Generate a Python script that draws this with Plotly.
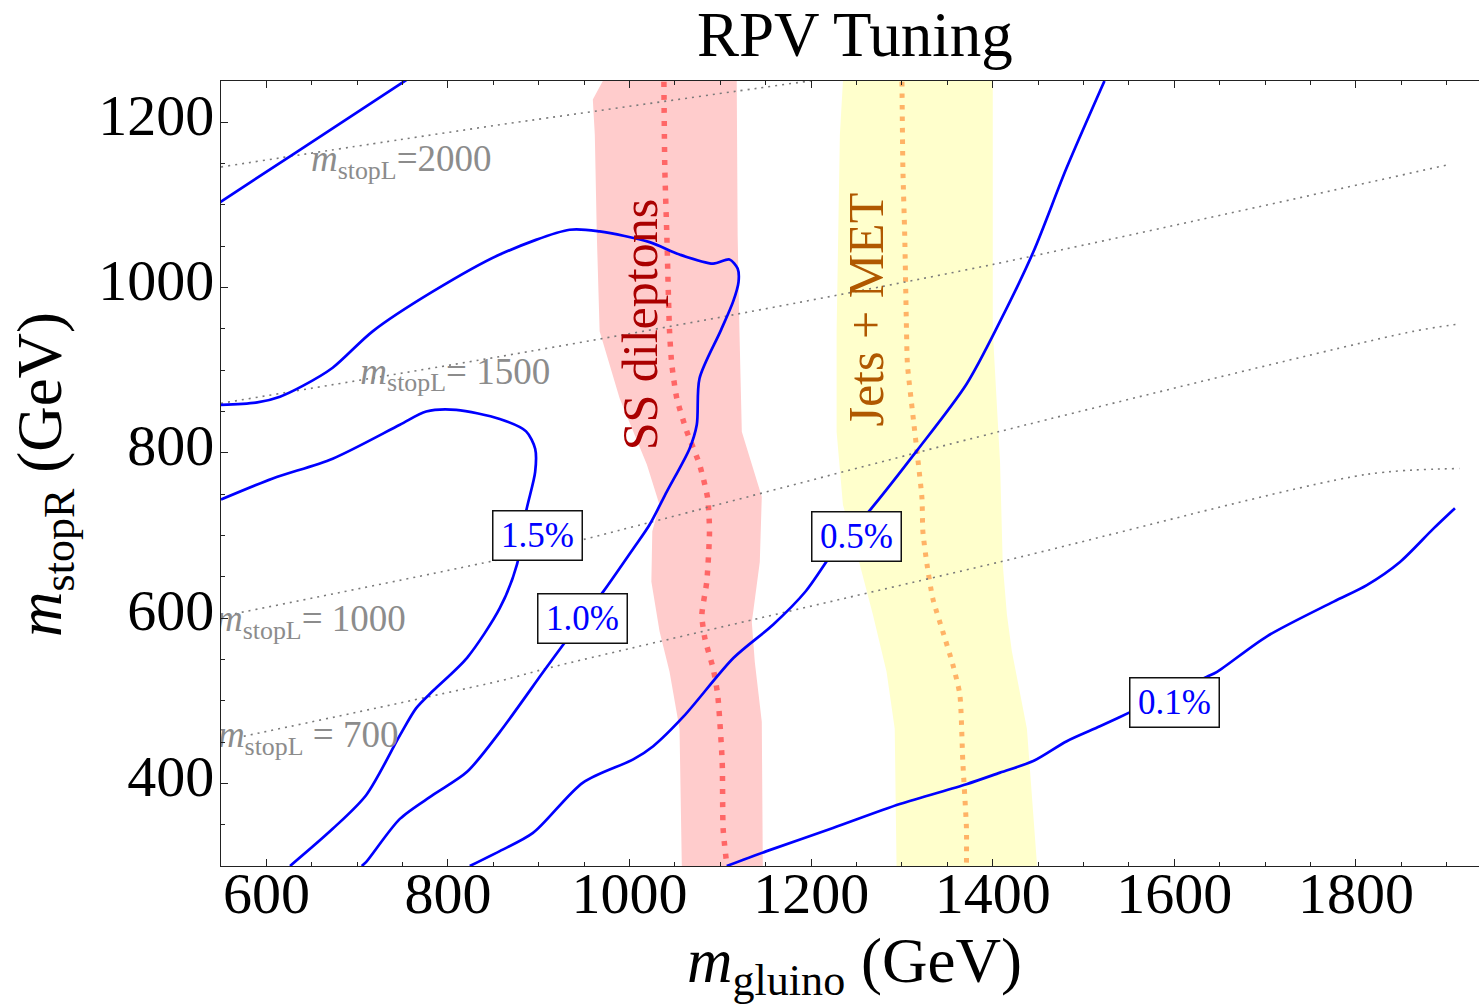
import plotly.graph_objects as go

# ---------------- axis extents (GeV) ----------------
X_RANGE = [550, 1935.5]
Y_RANGE = [300, 1250]

# ---------------- fine-tuning contours (m_gluino, m_stopR) ----------------
c20_x = [545, 629, 758]
c20_y = [1100.4, 1161, 1254]

c15_x = [550, 607, 673, 747, 776, 809, 857, 886, 896, 896, 886, 876, 857, 821, 783.5, 765, 747, 710, 673, 626]
c15_y = [743.5, 769, 793, 834, 850, 852, 841, 826, 805, 777, 729, 665, 612, 552, 512, 491, 458, 386, 345, 300]

c10_x = [550, 590, 615, 640, 673, 717, 783, 857, 934, 967, 1022, 1055, 1092, 1110, 1119, 1120, 1114, 1100,
         1077, 1074, 1066, 1041, 1022, 1004, 971, 927, 905, 857, 821, 783.5, 747, 710, 705]
c10_y = [858, 861, 868, 881, 903, 947, 995, 1040, 1070, 1068, 1055, 1040, 1029, 1034, 1023, 1007, 983, 947,
         890, 834, 805, 753, 713, 684, 632, 568, 535, 462, 414, 386, 357, 305, 300]

c05_x = [824, 857, 893.6, 948.7, 1004, 1026, 1059.5, 1114.6, 1158, 1194, 1227, 1265, 1316, 1371,
         1408, 1444.6, 1481, 1523]
c05_y = [300, 318, 340, 401, 429, 445, 481, 552, 592, 632.5, 684, 731, 802, 883,
         959, 1043, 1144, 1250]

c01_x = [1107, 1151, 1224, 1297.6, 1371, 1408, 1444.6, 1481.5, 1518, 1549, 1636, 1647, 1702,
         1775.5, 1812, 1848.5, 1885, 1909]
c01_y = [300, 318, 346, 375, 399, 413, 427, 451, 469, 485, 529, 535, 578,
         620, 640, 668, 708, 733]

# contour levels (%) and where their boxed labels sit
label_levels = [1.5, 1.0, 0.5, 0.1]
label_x = [899, 948, 1250, 1600]
label_y = [700, 600, 699, 498]

# ---------------- m_stopL iso-lines ----------------
stopl_2000_x = [550, 747, 857, 1198, 1205]
stopl_2000_y = [1146, 1179, 1197, 1250, 1251]
stopl_1500_x = [550, 857, 1114, 1400, 1903]
stopl_1500_y = [860, 916.5, 967, 1028, 1149]
stopl_1000_x = [550, 857, 948.6, 1408, 1863, 1914]
stopl_1000_y = [602, 671, 695, 826, 947, 956]
stopl_700_x = [575, 857, 912, 1408, 1812, 1914]
stopl_700_y = [457, 524, 540, 668, 774, 781]

stopl_values = [2000, 1500, 1000, 700]
stopl_text_x = [748.5, 808, 649, 646]
stopl_text_y = [1152, 895, 595, 455]

# ---------------- search bands ----------------
# same-sign dilepton band: left edge (top->bottom) then right edge (bottom->top)
ss_left_x = [975, 970.5, 959.5, 961.7, 963.9, 967, 989, 1019, 1033, 1025, 1024, 1033, 1044, 1055, 1057.5, 1058]
ss_left_y = [1262, 1250, 1227.5, 1185, 1064, 947, 866, 786, 737, 705, 644, 584, 535, 466, 301.5, 290]
ss_right_x = [1147, 1146.7, 1145.6, 1137.9, 1134.6, 1143.4, 1145.6, 1123.6, 1121, 1119, 1118, 1118]
ss_right_y = [290, 301.5, 474.5, 547, 595, 668, 747, 825.6, 947, 1064, 1249, 1262]
ss_center_x = [1037.8, 1038.8, 1041, 1044, 1046.5, 1052, 1063, 1077, 1086, 1088, 1085, 1079.6, 1083, 1092,
               1097, 1102, 1103, 1107]
ss_center_y = [1249, 1144, 1064, 947, 907, 866, 826, 786, 745, 705, 644, 604, 575, 539,
               507.5, 426, 345.5, 302]

# jets + MET band
jm_left_x = [1235, 1235, 1231.6, 1228, 1228, 1235, 1253.6, 1268, 1283, 1292, 1294, 1294]
jm_left_y = [1262, 1250, 1185, 947, 825.6, 737, 664.5, 604, 535, 466, 301.5, 290]
jm_right_x = [1449, 1448.7, 1437.6, 1421, 1415.6, 1411, 1408, 1400, 1400]
jm_right_y = [290, 301.5, 466, 560, 604, 664.6, 789, 947, 1262]
jm_center_x = [1300, 1301, 1303, 1305, 1306, 1312, 1317.4, 1322, 1323, 1327.6, 1334, 1345, 1356,
               1363.7, 1367, 1371, 1371]
jm_center_y = [1249, 1144, 1064, 947, 907, 846, 793, 745, 705, 664.6, 623.5, 583.6, 543.7,
               507.5, 426, 345.5, 302]

SERIF = "Liberation Serif, Times New Roman, serif"
BLUE = "#0000ff"
AXIS = "#222222"

# plot-area box in pixels, used to place page-level text
PLOT_L, PLOT_R, PLOT_T, PLOT_B = 221, 1479, 81, 866
W, H = 1479, 1006


def px_x(px):
    return (px - PLOT_L) / (PLOT_R - PLOT_L)


def px_y(py):
    return (PLOT_B - py) / (PLOT_B - PLOT_T)


fig = go.Figure()

# shaded bands
fig.add_trace(go.Scatter(
    x=ss_left_x + ss_right_x, y=ss_left_y + ss_right_y,
    mode="lines", fill="toself", fillcolor="#ffcccc",
    line=dict(width=0, color="#ffcccc"), hoverinfo="skip", showlegend=False))
fig.add_trace(go.Scatter(
    x=jm_left_x + jm_right_x, y=jm_left_y + jm_right_y,
    mode="lines", fill="toself", fillcolor="#ffffcc",
    line=dict(width=0, color="#ffffcc"), hoverinfo="skip", showlegend=False))

# band central values
fig.add_trace(go.Scatter(
    x=ss_center_x, y=ss_center_y, mode="lines",
    line=dict(color="#ff6666", width=5.5, dash="5px,8px", shape="spline", smoothing=0.6),
    hoverinfo="skip", showlegend=False))
fig.add_trace(go.Scatter(
    x=jm_center_x, y=jm_center_y, mode="lines",
    line=dict(color="#ffb366", width=5, dash="4.5px,7px", shape="spline", smoothing=0.6),
    hoverinfo="skip", showlegend=False))

# m_stopL iso-lines
for lx, ly in [(stopl_2000_x, stopl_2000_y), (stopl_1500_x, stopl_1500_y),
               (stopl_1000_x, stopl_1000_y), (stopl_700_x, stopl_700_y)]:
    fig.add_trace(go.Scatter(
        x=lx, y=ly, mode="lines",
        line=dict(color="#7a7a7a", width=1.6, dash="2px,5px", shape="spline", smoothing=0.8),
        hoverinfo="skip", showlegend=False))

# tuning contours
for cx, cy in [(c20_x, c20_y), (c15_x, c15_y), (c10_x, c10_y), (c05_x, c05_y), (c01_x, c01_y)]:
    fig.add_trace(go.Scatter(
        x=cx, y=cy, mode="lines",
        line=dict(color=BLUE, width=2.7, shape="spline", smoothing=0.8),
        hoverinfo="skip", showlegend=False))

# m_stopL labels (clipped at the frame)
stopl_labels = [
    "<i>m</i><sub>stopL</sub>=%d" % stopl_values[0],
    "<i>m</i><sub>stopL</sub>= %d" % stopl_values[1],
    "<i>m</i><sub>stopL</sub>= %d" % stopl_values[2],
    "<i>m</i><sub>stopL</sub> = %d" % stopl_values[3],
]
fig.add_trace(go.Scatter(
    x=stopl_text_x, y=stopl_text_y, mode="text", text=stopl_labels,
    textposition="middle center", cliponaxis=True,
    textfont=dict(family=SERIF, size=37, color="#8c8c8c"),
    hoverinfo="skip", showlegend=False))

# boxed contour labels
for lvl, lx, ly in zip(label_levels, label_x, label_y):
    fig.add_annotation(
        x=lx, y=ly, xref="x", yref="y", text="%.1f%%" % lvl, showarrow=False,
        font=dict(family=SERIF, size=35, color=BLUE),
        bgcolor="white", bordercolor="#111111", borderwidth=1.5, borderpad=4,
        width=80, height=40, xanchor="center", yanchor="middle")

# band names
fig.add_annotation(
    x=1011, y=955, xref="x", yref="y", text="SS dileptons", textangle=-90,
    showarrow=False, font=dict(family=SERIF, size=50, color="#aa0000"),
    xanchor="center", yanchor="middle")
fig.add_annotation(
    x=1260, y=973, xref="x", yref="y", text="Jets + MET", textangle=-90,
    showarrow=False, font=dict(family=SERIF, size=50, color="#b05800"),
    xanchor="center", yanchor="middle")

# title and axis titles
fig.add_annotation(
    x=px_x(855), y=px_y(35), xref="paper", yref="paper", text="RPV Tuning",
    showarrow=False, font=dict(family=SERIF, size=63, color="black"),
    xanchor="center", yanchor="middle")
fig.add_annotation(
    x=px_x(855), y=px_y(965), xref="paper", yref="paper",
    text="<i>m</i><sub>gluino</sub> (GeV)",
    showarrow=False, font=dict(family=SERIF, size=63, color="black"),
    xanchor="center", yanchor="middle")
fig.add_annotation(
    x=px_x(44), y=px_y(475), xref="paper", yref="paper",
    text="<i>m</i><sub>stopR</sub> (GeV)", textangle=-90,
    showarrow=False, font=dict(family=SERIF, size=63, color="black"),
    xanchor="center", yanchor="middle")

axis_common = dict(
    showline=True, linecolor=AXIS, linewidth=1.3,
    ticks="inside", ticklen=7, tickwidth=1, tickcolor=AXIS,
    tick0=0, dtick=200, showgrid=False, zeroline=False,
    tickfont=dict(family=SERIF, size=58, color="black"),
    minor=dict(ticks="inside", ticklen=4, tickwidth=1, tickcolor=AXIS, dtick=50, tick0=0, showgrid=False),
)

fig.update_layout(
    width=W, height=H,
    margin=dict(l=PLOT_L, r=W - PLOT_R, t=PLOT_T, b=H - PLOT_B, pad=0),
    paper_bgcolor="white", plot_bgcolor="white",
    showlegend=False,
    xaxis=dict(range=X_RANGE, mirror="ticks", ticklabelstandoff=-24, **axis_common),
    yaxis=dict(range=Y_RANGE, mirror=False, ticklabelstandoff=-6, ticklabelshift=-8, **axis_common),
)

fig.write_html("out.html")
